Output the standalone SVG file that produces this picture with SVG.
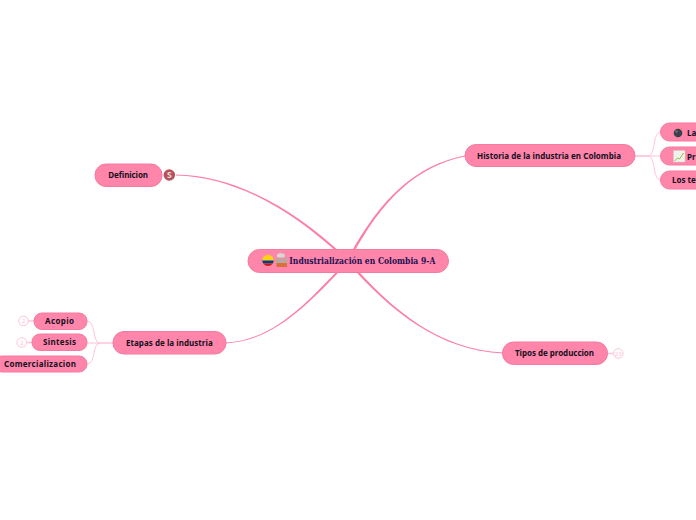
<svg xmlns="http://www.w3.org/2000/svg" width="696" height="520" viewBox="0 0 696 520">
<style>
.n{fill:#ff85ab;stroke:#f47a9f;stroke-width:1}
.t{font-family:"Noto Sans","Open Sans",sans-serif;font-weight:700;font-size:8px;fill:#14101c;text-anchor:start}
.main{fill:#fb7fa6;stroke:none}
.sub{fill:none;stroke:#ffc4d6;stroke-width:1}
.stub{fill:none;stroke:#ffc4d6;stroke-width:1.5}
.badge{fill:#fff;stroke:#ffc4d6;stroke-width:1}
.bt{font-family:"Noto Sans",sans-serif;font-size:6px;fill:#ffc4d6;text-anchor:middle}
</style>
<rect width="696" height="520" fill="#fff"/>
<g id="connectors">
<path class="main" d="M349.070 261.550C380.850 200.440 415.200 166.620 465 156.400V155.600C414.800 165.380 379.150 199.560 346.930 260.450Z"/>
<path class="main" d="M176 175.400C240 176.650 299.400 215.760 347.200 261.900L348.800 260.100C300.600 214.240 240 175.350 176 174.600Z"/>
<path class="main" d="M348.860 261.830C308.680 303.660 275.070 340.650 226 343.400V342.600C274.930 339.350 307.320 302.340 347.140 260.170Z"/>
<path class="main" d="M347.090 261.780C391.280 312.620 439.800 350.620 503 353.400V352.600C440.200 349.380 392.720 311.380 348.910 260.220Z"/>
<path class="sub" d="M635 156H648C656 156 652 132 661 132"/>
<path class="stub" d="M635 156H648"/>
<path class="sub" d="M648 156H661"/>
<path class="sub" d="M648 156C656 156 652 180 661 180"/>
<path class="stub" d="M113 343H100"/>
<path class="sub" d="M100 343C92 343 96 321 87 321"/>
<path class="sub" d="M100 343H87"/>
<path class="sub" d="M100 343C92 343 96 364 87 364"/>
<path class="stub" d="M28 321H34M27 342.500H32M608 353.500H613"/>
</g>
<g id="center">
<rect class="n" x="248" y="249.500" width="200.500" height="23" rx="11.500"/>
<circle cx="268" cy="260.500" r="5.800" fill="#fcd116"/>
<path d="M262.200 260.500h11.600a5.800 5.800 0 0 1-1 3h-9.600a5.800 5.800 0 0 1-1-3z" fill="#003893"/>
<path d="M263.200 263.500h9.600a5.800 5.800 0 0 1-9.600 0z" fill="#ce1126"/>
<path d="M276 267v-7l2-3 2 3 2-3 2 3 3-5v12z" fill="#b9a8a0"/>
<rect x="276.500" y="263" width="10.500" height="4" fill="#d9703c"/>
<path d="M277 256.500a3 2 0 0 1 8-1l-1 2h-6z" fill="#d8d8d8"/>
<text x="289.300" y="263.700" textLength="146" lengthAdjust="spacingAndGlyphs" font-family="'DejaVu Serif',serif" font-weight="700" font-size="8.500px" fill="#1a1050">Industrialización en Colombia 9-A</text>
</g>
<g id="historia">
<rect class="n" x="465" y="144.500" width="170" height="22" rx="11"/>
<text class="t" x="477" y="159.300" textLength="144">Historia de la industria en Colombia</text>
</g>
<g id="la">
<rect class="n" x="660.500" y="123" width="50" height="18" rx="9"/>
<circle cx="678" cy="133" r="4.300" fill="#3a3f48"/>
<circle cx="676.500" cy="131.500" r="1.200" fill="#6d7480"/>
<path d="M680.500 129.500l1.500-1.500" stroke="#e08a3c" fill="none"/>
<text class="t" x="687" y="135.500">La</text>
</g>
<g id="pr">
<rect class="n" x="660.500" y="147" width="50" height="18" rx="9"/>
<rect x="673.500" y="150.500" width="11.500" height="11.500" fill="#f2f2ea" stroke="#ccc" stroke-width=".5"/>
<path d="M674.500 161l3-3 2 1 4-6" stroke="#8cc152" fill="none"/>
<text class="t" x="687" y="159.500">Pr</text>
</g>
<g id="los">
<rect class="n" x="660.500" y="171" width="50" height="18" rx="9"/>
<text class="t" x="672" y="183">Los tel</text>
</g>
<g id="definicion">
<rect class="n" x="95" y="164" width="67" height="22.500" rx="11"/>
<text class="t" x="108.300" y="177.800" textLength="39.700">Definicion</text>
<circle cx="169.300" cy="175" r="5.800" fill="#b5525c"/>
<text x="169.300" y="178" text-anchor="middle" font-family="'Noto Sans',sans-serif" font-weight="700" font-size="8.500px" fill="#f0dcdc">S</text>
</g>
<g id="etapas">
<rect class="n" x="113" y="331.500" width="113" height="22.500" rx="11"/>
<text class="t" x="126" y="346" textLength="86.700">Etapas de la industria</text>
</g>
<g id="acopio">
<rect class="n" x="34" y="313" width="53" height="16.500" rx="8"/>
<text class="t" x="45" y="324" textLength="29">Acopio</text>
<circle class="badge" cx="23.500" cy="321" r="4.800"/>
<text class="bt" x="23.500" y="323">2</text>
</g>
<g id="sintesis">
<rect class="n" x="32" y="334" width="55" height="16.500" rx="8"/>
<text class="t" x="43" y="345.300" textLength="33">Sintesis</text>
<circle class="badge" cx="21.700" cy="342.500" r="4.800"/>
<text class="bt" x="21.700" y="344.500">2</text>
</g>
<g id="comercializacion">
<rect class="n" x="-6" y="356" width="93" height="16" rx="8"/>
<text class="t" x="4" y="367.300" textLength="72">Comercializacion</text>
</g>
<g id="tipos">
<rect class="n" x="502.500" y="342" width="105" height="22.500" rx="11"/>
<text class="t" x="515" y="356.300" textLength="79">Tipos de produccion</text>
<circle class="badge" cx="618.300" cy="353.500" r="4.800"/>
<text class="bt" x="618.300" y="355.500">23</text>
</g>
</svg>
